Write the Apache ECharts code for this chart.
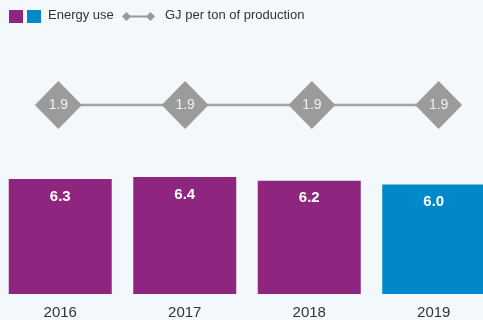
<!DOCTYPE html>
<html>
<head>
<meta charset="utf-8">
<script src="https://cdn.jsdelivr.net/npm/echarts@6/dist/echarts.min.js"></script>
<style>
  html, body { margin: 0; padding: 0; background: #f2f8fc; }
  #chart { width: 483px; height: 320px; }
</style>
</head>
<body>
<div id="chart"></div>
<script>
// Energy use and intensity per year
const years = ['2016', '2017', '2018', '2019'];
const energyUse = [6.3, 6.4, 6.2, 6.0];
const gjPerTon = [1.9, 1.9, 1.9, 1.9];
const legendLabels = ['Energy use', 'GJ per ton of production'];

const PURPLE = '#8e267f';
const BLUE = '#0088c9';
const GREY = '#9b9b9b';
const FONT = '"Liberation Sans", Arial, Helvetica, sans-serif';

const chart = echarts.init(document.getElementById('chart'), null, { renderer: 'canvas' });

chart.setOption({
  backgroundColor: '#f2f8fc',
  animation: false,
  textStyle: { fontFamily: FONT },
  grid: [
    { left: -2, width: 498, top: 20, bottom: 26, outerBoundsMode: 'none', containLabel: false },
    { left: -5, width: 507, top: 0, bottom: 110, outerBoundsMode: 'none', containLabel: false }
  ],
  xAxis: [
    {
      type: 'category', gridIndex: 0, data: years,
      axisLine: { show: false }, axisTick: { show: false },
      axisLabel: { color: '#333', fontSize: 15, margin: 11, fontFamily: FONT }
    },
    {
      type: 'category', gridIndex: 1, data: years, show: false
    }
  ],
  yAxis: [
    { type: 'value', gridIndex: 0, min: 0, max: 15, show: false },
    { type: 'value', gridIndex: 1, min: 0, max: 3.8, show: false }
  ],
  series: [
    {
      name: legendLabels[0],
      type: 'bar',
      xAxisIndex: 0, yAxisIndex: 0,
      barWidth: 103,
      data: energyUse.map((v, i) => ({
        value: v,
        itemStyle: { color: i === energyUse.length - 1 ? BLUE : PURPLE }
      })),
      label: {
        show: true, position: 'insideTop', distance: 10,
        color: '#fff', fontSize: 15, fontWeight: 'bold', fontFamily: FONT,
        formatter: p => p.value.toFixed(1)
      }
    },
    {
      name: legendLabels[1],
      type: 'line',
      xAxisIndex: 1, yAxisIndex: 1,
      data: gjPerTon,
      symbol: 'diamond',
      symbolSize: [47, 48],
      lineStyle: { color: '#a3a3a3', width: 2.5 },
      itemStyle: { color: GREY },
      label: {
        show: true, position: 'inside',
        color: '#f0f0f0', fontSize: 14, fontFamily: FONT,
        formatter: p => p.value.toFixed(1)
      },
      z: 3
    }
  ],
  graphic: [
    { type: 'rect', left: 9, top: 10, shape: { width: 14, height: 13 }, style: { fill: PURPLE } },
    { type: 'rect', left: 27, top: 10, shape: { width: 14, height: 13 }, style: { fill: BLUE } },
    { type: 'text', left: 48, top: 9, style: { text: legendLabels[0], fill: '#333', font: '13px ' + FONT } },
    { type: 'line', shape: { x1: 125, y1: 16.5, x2: 152, y2: 16.5 }, style: { stroke: '#999', lineWidth: 2 } },
    { type: 'polygon', shape: { points: [[122, 16.5], [126.5, 12], [131, 16.5], [126.5, 21]] }, style: { fill: '#999' } },
    { type: 'polygon', shape: { points: [[146, 16.5], [150.5, 12], [155, 16.5], [150.5, 21]] }, style: { fill: '#999' } },
    { type: 'text', left: 165, top: 9, style: { text: legendLabels[1], fill: '#333', font: '13px ' + FONT } }
  ]
});
</script>
</body>
</html>
